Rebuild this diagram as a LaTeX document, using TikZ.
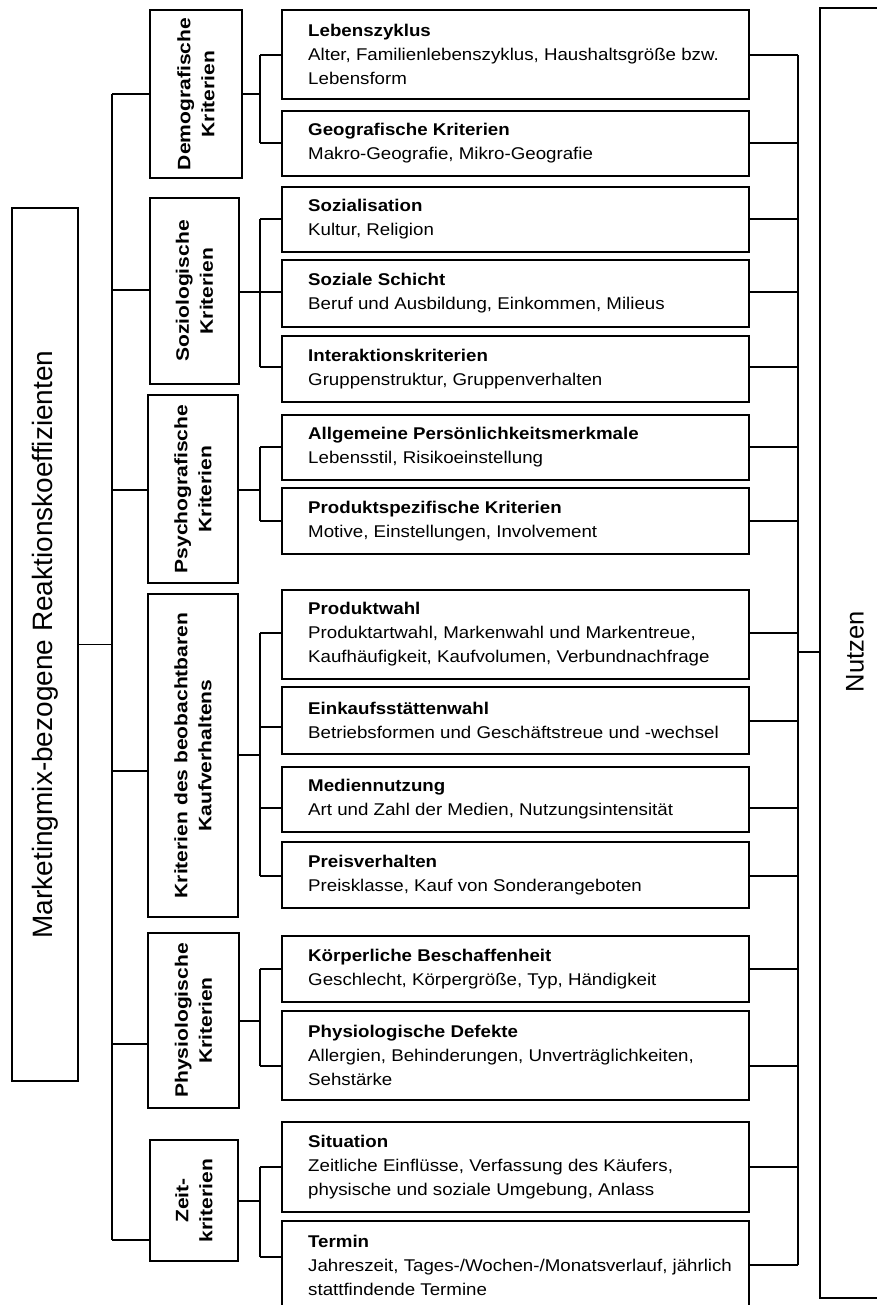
\documentclass[tikz,border=0pt]{standalone}
\usepackage{fontspec}
\setmainfont{Liberation Sans}
\newfontfamily\detfont{Liberation Sans}[FakeStretch=1.1]
\newfontfamily\catfont{Liberation Sans}[FakeStretch=1.17]
\newcommand\mkbox[5]{%
  \node[box, minimum width={(#4-#2)*1pt}, minimum height={(#5-#3)*1pt}] (#1) at ({(#2+#4)/2},{(#3+#5)/2}) {};}
\newcommand\detail[6]{%
  \node[box, minimum width=467pt, minimum height={(#3-#2)*1pt}] (#1) at (515.5,{(#2+#3)/2}) {};
  \node[dtext] (#1-t) at ([xshift=26pt]#1.west) {#6};
  \coordinate (#1-s) at (260,#4);
  \coordinate (#1-r) at (798,#5);
  \draw[conn] (#1-s) -- (#1-s -| #1.west);
  \draw[conn] (#1.east |- #1-r) -- (#1-r);}
\begin{document}
\begin{tikzpicture}[x=1pt,y=-1pt,
  box/.style={draw, line width=1.8pt, rectangle, inner sep=0pt, outer sep=0pt},
  conn/.style={line width=1.7pt},
  spine/.style={line width=2.4pt},
  dtext/.style={font={\detfont\fontsize{17}{24}\selectfont}, align=left, inner sep=0pt, anchor=west},
  ctext/.style={font={\catfont\bfseries\fontsize{18}{24}\selectfont}, align=center, rotate=90, inner sep=0pt},
  ]
\useasboundingbox (0,0) rectangle (877,1305);
\fill[white] (0,0) rectangle (877,1305);
\clip (0,0) rectangle (877,1305);

% main box
\mkbox{main}{12}{208}{78}{1081}
\node[font={\fontsize{28}{30}\selectfont}, rotate=90, inner sep=0pt] (main-t) at (main.center) {Marketingmix-bezogene Reaktionskoeffizienten};

% category boxes
\mkbox{demo}{150}{10}{242}{178}
\mkbox{sozio}{150}{198}{239}{384}
\mkbox{psycho}{148}{395}{238}{583}
\mkbox{kauf}{148}{594}{238}{917}
\mkbox{physio}{148}{933}{239}{1108}
\mkbox{zeit}{150}{1140}{238}{1261}
\node[ctext] (demo-t) at (demo.center) {Demografische\\Kriterien};
\node[ctext] (sozio-t) at (sozio.center) {Soziologische\\Kriterien};
\node[ctext] (psycho-t) at (psycho.center) {Psychografische\\Kriterien};
\node[ctext] (kauf-t) at (kauf.center) {Kriterien des beobachtbaren\\Kaufverhaltens};
\node[ctext] (physio-t) at (physio.center) {Physiologische\\Kriterien};
\node[ctext] (zeit-t) at (zeit.center) {Zeit-\\kriterien};

% Nutzen box
\mkbox{nutzen}{820}{8}{900}{1298}
\node[font={\fontsize{25.5}{28}\selectfont}, rotate=90, inner sep=0pt] (nutzen-t) at (855,652) {Nutzen};

% left spine
\coordinate (L1) at (112,94);
\coordinate (L2) at (112,290);
\coordinate (L3) at (112,490);
\coordinate (L4) at (112,771);
\coordinate (L5) at (112,1044);
\coordinate (L6) at (112,1240);
\draw[conn] (L1) -- (L6);
\draw[conn] (main.east) -- (main.east -| L1);
\draw[conn] (L1) -- (L1 -| demo.west);
\draw[conn] (L2) -- (L2 -| sozio.west);
\draw[conn] (L3) -- (L3 -| psycho.west);
\draw[conn] (L4) -- (L4 -| kauf.west);
\draw[conn] (L5) -- (L5 -| physio.west);
\draw[conn] (L6) -- (L6 -| zeit.west);

% detail boxes
\detail{leb}{10}{99}{55}{55}{\textbf{Lebenszyklus}\\Alter, Familienlebenszyklus, Haushaltsgröße bzw.\\Lebensform}
\detail{geo}{111}{176}{143}{143}{\textbf{Geografische Kriterien}\\Makro-Geografie, Mikro-Geografie}
\detail{sozi}{187}{252}{219}{219}{\textbf{Sozialisation}\\Kultur, Religion}
\detail{schicht}{260}{327}{292}{292}{\textbf{Soziale Schicht}\\Beruf und Ausbildung, Einkommen, Milieus}
\detail{inter}{336}{402}{367}{367}{\textbf{Interaktionskriterien}\\Gruppenstruktur, Gruppenverhalten}
\detail{allg}{415}{480}{447}{447}{\textbf{Allgemeine Persönlichkeitsmerkmale}\\Lebensstil, Risikoeinstellung}
\detail{prodspez}{488}{554}{521}{521}{\textbf{Produktspezifische Kriterien}\\Motive, Einstellungen, Involvement}
\detail{prodwahl}{590}{679}{633}{633}{\textbf{Produktwahl}\\Produktartwahl, Markenwahl und Markentreue,\\Kaufhäufigkeit, Kaufvolumen, Verbundnachfrage}
\detail{einkauf}{687}{754}{727}{721}{\textbf{Einkaufsstättenwahl}\\Betriebsformen und Geschäftstreue und -wechsel}
\detail{medien}{767}{832}{808}{808}{\textbf{Mediennutzung}\\Art und Zahl der Medien, Nutzungsintensität}
\detail{preis}{842}{908}{876}{876}{\textbf{Preisverhalten}\\Preisklasse, Kauf von Sonderangeboten}
\detail{koerper}{936}{1002}{969}{969}{\textbf{Körperliche Beschaffenheit}\\Geschlecht, Körpergröße, Typ, Händigkeit}
\detail{defekte}{1011}{1100}{1066}{1066}{\textbf{Physiologische Defekte}\\Allergien, Behinderungen, Unverträglichkeiten,\\Sehstärke}
\detail{situation}{1122}{1212}{1167}{1167}{\textbf{Situation}\\Zeitliche Einflüsse, Verfassung des Käufers,\\physische und soziale Umgebung, Anlass}
\detail{termin}{1221}{1309}{1257}{1265}{\textbf{Termin}\\Jahreszeit, Tages-/Wochen-/Monatsverlauf, jährlich\\stattfindende Termine}

% category -> branch
\coordinate (demo-b) at (260,94);
\coordinate (sozio-b) at (260,292);
\coordinate (psycho-b) at (260,490);
\coordinate (kauf-b) at (260,755);
\coordinate (physio-b) at (260,1021);
\coordinate (zeit-b) at (260,1201);
\draw[spine] (demo.east |- demo-b) -- (demo-b);
\draw[conn] (sozio.east |- sozio-b) -- (sozio-b);
\draw[conn] (psycho.east |- psycho-b) -- (psycho-b);
\draw[spine] (kauf.east |- kauf-b) -- (kauf-b);
\draw[conn] (physio.east |- physio-b) -- (physio-b);
\draw[spine] (zeit.east |- zeit-b) -- (zeit-b);
\draw[conn] (leb-s) -- (geo-s);
\draw[conn] (sozi-s) -- (inter-s);
\draw[conn] (allg-s) -- (prodspez-s);
\draw[conn] (prodwahl-s) -- (preis-s);
\draw[conn] (koerper-s) -- (defekte-s);
\draw[conn] (situation-s) -- (termin-s);

% right spine
\draw[spine] (leb-r) -- (termin-r);
\coordinate (nz) at (798,652);
\draw[spine] (nz) -- (nz -| nutzen.west);
\end{tikzpicture}
\end{document}
